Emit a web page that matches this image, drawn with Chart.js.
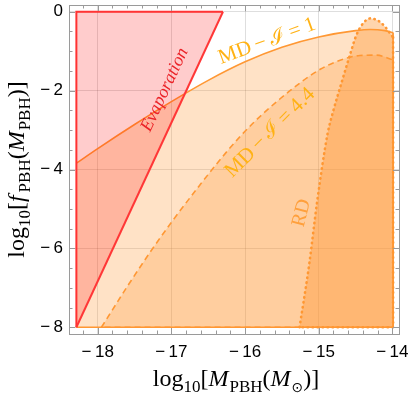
<!DOCTYPE html>
<html lang="en">
<head>
<meta charset="UTF-8">
<title>PBH fraction</title>
<script src="https://cdn.jsdelivr.net/npm/chart.js@4.4.0/dist/chart.umd.min.js"></script>
<style>
  body { margin: 0; background: #fff; }
</style>
</head>
<body>
<canvas id="chart" width="409" height="404"></canvas>
<script>
// evaporation triangle: hypotenuse + the two straight edges
const evapX = [-18.29, -16.3]
const evapY = [-8, 0]
const evapEdgeX = [-16.3, -18.29, -18.29]
const evapEdgeY = [0, 0, -8]

// MD, I = 1 (solid)
const md1X = [-18.29, -18.0, -17.5, -17.0, -16.5, -16.0, -15.5, -15.0, -14.5, -14.3, -14.1, -13.99]
const md1Y = [-3.84, -3.47, -2.86, -2.28, -1.74, -1.27, -0.9, -0.64, -0.48, -0.45, -0.48, -0.53]
const md1EdgeX = [-13.99, -13.99, -18.29]
const md1EdgeY = [-0.53, -8, -8]

// MD, I = 4.4 (dashed)
const md44X = [-17.95, -17.6, -17.29, -17.0, -16.62, -16.24, -15.9, -15.52, -15.25, -14.98, -14.71, -14.44, -14.22, -13.99]
const md44Y = [-8, -6.97, -6.1, -5.34, -4.41, -3.53, -2.84, -2.2, -1.8, -1.46, -1.23, -1.11, -1.1, -1.22]
const md44EdgeX = [-13.99, -13.99, -17.95]
const md44EdgeY = [-1.22, -8, -8]

// RD (dotted)
const rdX = [-15.26, -15.13, -15.02, -14.88, -14.8, -14.69, -14.58, -14.49, -14.4, -14.3, -14.19, -14.1, -14.03, -13.99]
const rdY = [-8, -6.42, -4.8, -3.1, -2.5, -1.8, -1.12, -0.6, -0.3, -0.17, -0.23, -0.38, -0.55, -0.65]
const rdEdgeX = [-13.99, -13.99, -15.26]
const rdEdgeY = [-0.65, -8, -8]

const xTicks = [-18, -17, -16, -15, -14]
const yTicks = [0, -2, -4, -6, -8]

const RED = 'rgb(255,55,55)'
const ORANGE = 'rgb(255,152,52)'
const SERIF = '"Liberation Serif", "DejaVu Serif", serif'

function pts(xs, ys) {
    return xs.map((x, i) => ({ x: x, y: ys[i] }))
}

function line(xs, ys, o) {
    return Object.assign({
        data: pts(xs, ys),
        showLine: true,
        pointRadius: 0,
        borderWidth: 1.6,
        fill: false,
        tension: 0,
    }, o)
}

// draws a run of text pieces (subscripts, gaps), centred on cx
function drawRuns(ctx, runs, cx, cy, angle, color, middle) {
    ctx.save()
    ctx.translate(cx, cy)
    ctx.rotate(angle)
    ctx.fillStyle = color || '#000'
    ctx.textAlign = 'left'
    ctx.textBaseline = middle ? 'middle' : 'alphabetic'
    let w = 0
    runs.forEach(r => {
        ctx.font = r.font
        r.w = ctx.measureText(r.t).width + (r.gap || 0)
        w += r.w
    })
    let x = -w / 2
    runs.forEach(r => {
        ctx.font = r.font
        ctx.fillText(r.t, x, r.dy || 0)
        x += r.w
    })
    ctx.restore()
}

function label(chart, runs, dx, dy, deg, color) {
    const px = chart.scales.x.getPixelForValue(dx)
    const py = chart.scales.y.getPixelForValue(dy)
    drawRuns(chart.ctx, runs, px, py, deg * Math.PI / 180, color, true)
}

const decor = {
    id: 'decor',
    afterDatasetsDraw(chart) {
        const ctx = chart.ctx
        const a = chart.chartArea
        const sx = chart.scales.x, sy = chart.scales.y
        ctx.save()
        ctx.strokeStyle = '#9a9a9a'
        ctx.lineWidth = 1
        ctx.beginPath()
        // minor + major ticks on all four sides
        for (let v = -18.4; v <= -13.9; v += 0.2) {
            const major = Math.abs(v - Math.round(v)) < 0.01
            const len = major ? 6 : 3.5
            const p = Math.round(sx.getPixelForValue(v)) + 0.5
            if (p < a.left || p > a.right) continue
            ctx.moveTo(p, a.bottom); ctx.lineTo(p, a.bottom - len)
            ctx.moveTo(p, a.top); ctx.lineTo(p, a.top + len)
        }
        for (let v = 0; v >= -8.001; v -= 0.5) {
            const major = Math.abs(v / 2 - Math.round(v / 2)) < 0.01
            const len = major ? 6 : 3.5
            const p = Math.round(sy.getPixelForValue(v)) + 0.5
            ctx.moveTo(a.left, p); ctx.lineTo(a.left + len, p)
            ctx.moveTo(a.right, p); ctx.lineTo(a.right - len, p)
        }
        ctx.stroke()
        ctx.strokeRect(Math.round(a.left) + 0.5, Math.round(a.top) + 0.5,
            Math.round(a.right - a.left), Math.round(a.bottom - a.top))
        ctx.restore()
    },
    afterDraw(chart) {
        const a = chart.chartArea
        const lf = '21px ' + SERIF
        const sp = 4
        label(chart, [{ t: 'Evaporation', font: 'italic 18px ' + SERIF }], -17.09, -1.98, -65, 'rgb(235,35,40)')
        label(chart, [
            { t: 'MD', font: lf, gap: sp }, { t: '\u2212', font: lf, gap: sp }, { t: '\u2110', font: lf, gap: sp + 1 },
            { t: '=', font: lf, gap: sp + 1 }, { t: '1', font: lf }
        ], -15.7, -0.75, -20, 'rgb(255,178,20)')
        label(chart, [
            { t: 'MD', font: lf, gap: sp }, { t: '\u2212', font: lf, gap: sp }, { t: '\u2110', font: lf, gap: sp + 1 },
            { t: '=', font: lf, gap: sp + 1 }, { t: '4.4', font: lf }
        ], -15.66, -3.07, -45, 'rgb(255,178,20)')
        label(chart, [{ t: 'RD', font: '20px ' + SERIF }], -15.23, -5.1, -76, 'rgb(255,160,60)')

        const big = '24px ' + SERIF, it = 'italic 24px ' + SERIF, sub = '17px ' + SERIF
        drawRuns(chart.ctx, [
            { t: 'log', font: big }, { t: '10', font: sub, dy: 6 }, { t: '[', font: big },
            { t: 'M', font: it, gap: 1 }, { t: 'PBH', font: sub, dy: 6 }, { t: '(', font: big },
            { t: 'M', font: it, gap: 1 }, { t: '\u2299', font: '14px "DejaVu Sans"', dy: 6 },
            { t: ')', font: big }, { t: ']', font: big }
        ], (a.left + a.right) / 2 + 2, 386, 0)
        drawRuns(chart.ctx, [
            { t: 'log', font: big }, { t: '10', font: sub, dy: 6 }, { t: '[', font: big },
            { t: 'f', font: it, gap: 3 }, { t: 'PBH', font: sub, dy: 6 }, { t: '(', font: big },
            { t: 'M', font: it, gap: 1 }, { t: 'PBH', font: sub, dy: 6 },
            { t: ')', font: big }, { t: ']', font: big }
        ], 24, (a.top + a.bottom) / 2, -Math.PI / 2)
    }
}

const fillOrange = a => 'rgba(255,150,50,' + a + ')'
const dots = { borderWidth: 2.6, borderDash: [0.5, 4.5], borderCapStyle: 'round' }

new Chart(document.getElementById('chart'), {
    type: 'scatter',
    data: {
        datasets: [
            line(evapX, evapY, { borderColor: RED, borderWidth: 2, backgroundColor: 'rgba(255,0,0,0.2)', fill: { value: 0 } }),
            line(evapEdgeX, evapEdgeY, { borderColor: RED, borderWidth: 2 }),
            line(md1X, md1Y, { borderColor: ORANGE, backgroundColor: fillOrange(0.28), fill: { value: -8 }, cubicInterpolationMode: 'monotone' }),
            line(md1EdgeX, md1EdgeY, { borderColor: ORANGE }),
            line(md44X, md44Y, { borderColor: ORANGE, borderDash: [6, 4], backgroundColor: fillOrange(0.27), fill: { value: -8 }, cubicInterpolationMode: 'monotone' }),
            line(md44EdgeX, md44EdgeY, { borderColor: ORANGE, borderDash: [6, 4] }),
            line(rdX, rdY, Object.assign({ borderColor: ORANGE, backgroundColor: fillOrange(0.4), fill: { value: -8 }, cubicInterpolationMode: 'monotone' }, dots)),
            line(rdEdgeX, rdEdgeY, Object.assign({ borderColor: ORANGE }, dots)),
        ]
    },
    options: {
        responsive: false,
        animation: false,
        layout: { padding: { top: 5, right: 10, left: 0, bottom: 0 } },
        plugins: { legend: { display: false }, tooltip: { enabled: false } },
        scales: {
            x: {
                type: 'linear',
                min: -18.39,
                max: -13.91,
                afterFit: s => { s.height = 70; s.paddingLeft = 0; s.paddingRight = 0 },
                afterBuildTicks: s => { s.ticks = xTicks.map(v => ({ value: v })) },
                border: { display: false },
                grid: { color: 'rgba(0,0,0,0.13)', drawTicks: false },
                ticks: {
                    padding: 8,
                    color: '#000',
                    font: { family: '"Liberation Sans", Arial, sans-serif', size: 17 },
                    callback: v => v < 0 ? '\u2212\u2009' + Math.abs(v) : '' + v
                }
            },
            y: {
                type: 'linear',
                min: -8.17,
                max: 0.17,
                afterFit: s => { s.width = 69; s.paddingTop = 0; s.paddingBottom = 0 },
                afterBuildTicks: s => { s.ticks = yTicks.map(v => ({ value: v })) },
                border: { display: false },
                grid: { color: 'rgba(0,0,0,0.13)', drawTicks: false },
                ticks: {
                    padding: 6,
                    color: '#000',
                    font: { family: '"Liberation Sans", Arial, sans-serif', size: 17 },
                    callback: v => v < 0 ? '\u2212\u2009' + Math.abs(v) : '' + v
                }
            }
        }
    },
    plugins: [decor]
})
</script>
</body>
</html>
